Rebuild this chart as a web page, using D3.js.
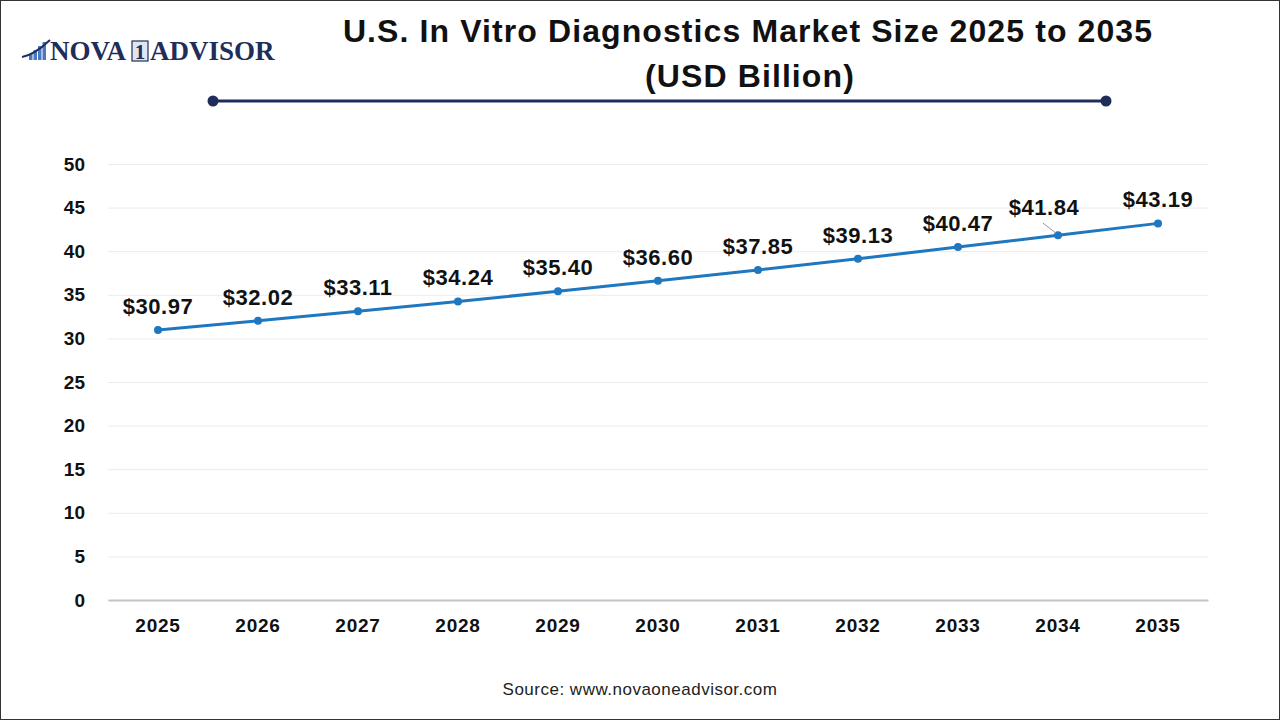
<!DOCTYPE html>
<html>
<head>
<meta charset="utf-8">
<style>
  body { margin: 0; background: #fff; }
  svg text { font-family: 'Liberation Sans', Arial, sans-serif; }
  svg text.serif { font-family: 'Liberation Serif', 'DejaVu Serif', serif; }
  .grid line { stroke: #ebebeb; stroke-width: 1; }
  .grid .domain { display: none; }
  .y-axis .domain, .y-axis line { display: none; }
  .y-axis text { font-size: 19px; font-weight: bold; fill: #111; }
  .x-axis line { display: none; }
  .x-axis .domain { stroke: #c4c4c4; stroke-width: 2; }
  .x-axis text { font-size: 19px; font-weight: bold; fill: #111; letter-spacing: 0.8px; }
  .label { font-size: 22px; font-weight: bold; fill: #111; letter-spacing: 0.5px; }
</style>
</head>
<body>
<div id="chart"></div>
<script src="https://d3js.org/d3.v7.min.js"></script>
<script>
var years = ['2025', '2026', '2027', '2028', '2029', '2030', '2031', '2032', '2033', '2034', '2035']
var values = [30.97, 32.02, 33.11, 34.24, 35.40, 36.60, 37.85, 39.13, 40.47, 41.84, 43.19]
var yTicks = [0, 5, 10, 15, 20, 25, 30, 35, 40, 45, 50]

var W = 1280, H = 720
var margin = { top: 164, left: 108, right: 72, bottom: 120 }
var width = W - margin.left - margin.right
var height = H - margin.top - margin.bottom

var root = d3.select('#chart')
  .append('svg')
  .attr('width', W)
  .attr('height', H)

// frame
root.append('rect')
  .attr('x', 0.5).attr('y', 0.5)
  .attr('width', W - 1).attr('height', H - 1)
  .attr('fill', 'none')
  .attr('stroke', '#333')
  .attr('stroke-width', 1)

// logo
var logo = root.append('g').attr('transform', 'translate(22,60)')
var barH = [6, 10, 14, 18]
barH.forEach(function (h, i) {
  logo.append('rect')
    .attr('x', 7 + i * 4.5).attr('y', -h)
    .attr('width', 3.5).attr('height', h)
    .attr('fill', '#4a79c4')
})
logo.append('path')
  .attr('d', 'M0,-3 Q12,-5 28,-20')
  .attr('fill', 'none')
  .attr('stroke', '#1f2d5a')
  .attr('stroke-width', 2)
logo.append('text')
  .attr('class', 'serif')
  .attr('x', 28).attr('y', 0)
  .attr('font-weight', 'bold')
  .attr('font-size', 27)
  .attr('fill', '#1f2d5a')
  .text('NOVA')
logo.append('rect')
  .attr('x', 110).attr('y', -19)
  .attr('width', 16).attr('height', 20)
  .attr('fill', '#dfe6f2')
  .attr('stroke', '#1f2d5a')
  .attr('stroke-width', 1.2)
logo.append('text')
  .attr('class', 'serif')
  .attr('x', 118).attr('y', -1)
  .attr('text-anchor', 'middle')
  .attr('font-weight', 'bold')
  .attr('font-size', 21)
  .attr('fill', '#1f2d5a')
  .text('1')
logo.append('text')
  .attr('class', 'serif')
  .attr('x', 128).attr('y', 0)
  .attr('font-weight', 'bold')
  .attr('font-size', 27)
  .attr('fill', '#1f2d5a')
  .text('ADVISOR')

// title
root.append('text')
  .attr('x', 748).attr('y', 42)
  .attr('text-anchor', 'middle')
  .attr('font-size', 32).attr('font-weight', 'bold').attr('fill', '#111')
  .attr('letter-spacing', '1.1px')
  .text('U.S. In Vitro Diagnostics Market Size 2025 to 2035')
root.append('text')
  .attr('x', 750).attr('y', 87)
  .attr('text-anchor', 'middle')
  .attr('font-size', 32).attr('font-weight', 'bold').attr('fill', '#111')
  .attr('letter-spacing', '1.1px')
  .text('(USD Billion)')

root.append('line')
  .attr('x1', 213).attr('x2', 1106)
  .attr('y1', 101).attr('y2', 101)
  .attr('stroke', '#1f2d5a').attr('stroke-width', 3)
;[213, 1106].forEach(function (cx) {
  root.append('circle')
    .attr('cx', cx).attr('cy', 101).attr('r', 5.5)
    .attr('fill', '#1f2d5a')
})

var svg = root.append('g')
  .attr('transform', 'translate(' + margin.left + ',' + margin.top + ')')

var x = d3.scaleBand().domain(years).range([0, width])
var y = d3.scaleLinear().domain([0, 50]).range([height, 0])

svg.append('g')
  .attr('class', 'grid')
  .call(d3.axisLeft(y).tickValues(yTicks).tickSize(-width).tickFormat(''))

svg.append('g')
  .attr('class', 'y-axis')
  .attr('transform', 'translate(-20,0)')
  .call(d3.axisLeft(y).tickValues(yTicks).tickSize(0))

svg.append('g')
  .attr('class', 'x-axis')
  .attr('transform', 'translate(0,' + height + ')')
  .call(d3.axisBottom(x).tickSize(0).tickPadding(19))

var cx = function (d, i) { return x(years[i]) + x.bandwidth() / 2 }

svg.append('path')
  .datum(values)
  .attr('d', d3.line().x(cx).y(function (d) { return y(d) }))
  .attr('fill', 'none')
  .attr('stroke', '#1f77c0')
  .attr('stroke-width', 3)

svg.selectAll('.dot')
  .data(values)
  .enter().append('circle')
  .attr('class', 'dot')
  .attr('cx', cx)
  .attr('cy', function (d) { return y(d) })
  .attr('r', 4)
  .attr('fill', '#1f77c0')

// leader line for 2034
svg.append('line')
  .attr('x1', x('2034') + x.bandwidth() / 2 - 2).attr('y1', y(41.84) - 2)
  .attr('x2', x('2034') + x.bandwidth() / 2 - 15).attr('y2', y(41.84) - 12)
  .attr('stroke', '#999').attr('stroke-width', 1)

svg.selectAll('.label')
  .data(values)
  .enter().append('text')
  .attr('class', 'label')
  .attr('x', function (d, i) { return cx(d, i) + (i === 9 ? -14 : 0) })
  .attr('y', function (d, i) { return y(d) - (i === 9 ? 20 : 16) })
  .attr('text-anchor', 'middle')
  .text(function (d) { return '$' + d.toFixed(2) })

root.append('text')
  .attr('x', 640).attr('y', 695)
  .attr('text-anchor', 'middle')
  .attr('font-size', 17).attr('fill', '#222')
  .attr('letter-spacing', '0.5px')
  .text('Source: www.novaoneadvisor.com')
</script>
</body>
</html>
